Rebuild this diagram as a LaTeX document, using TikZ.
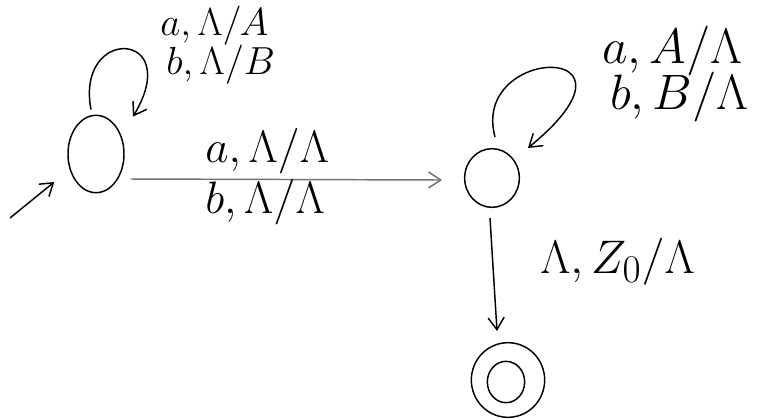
\documentclass[tikz,border=0pt]{standalone}
\usetikzlibrary{arrows.meta,shapes.geometric}
\begin{document}
\begin{tikzpicture}[x=0.75pt,y=-0.75pt,
  state/.style={draw, ellipse, inner sep=0pt, line width=1.1pt},
  edge/.style={line width=1.1pt, -{Straight Barb[length=9pt,width=12pt,line width=1.1pt]}},
  lbl/.style={inner sep=0pt, anchor=west, font=\fontsize{24.88}{28}\selectfont}]
\useasboundingbox (0,0) rectangle (757,419);
% states
\node[state, minimum width=42pt, minimum height=58pt] (q0) at (96,154) {};
\node[state, minimum width=41pt, minimum height=44pt] (q1) at (492,178) {};
\node[state, minimum width=55pt, minimum height=56pt] (q2) at (508,380) {};
\node[state, minimum width=28pt, minimum height=31pt] (q2in) at (506,382) {};
% initial arrow
\coordinate (init) at (10,218);
\draw[edge] (init) -- ([shift={(-13,28)}]q0.west);
% loop on q0
\draw[edge] ([shift={(-5,-5)}]q0.north) .. controls (75,25) and (185,30) .. ([shift={(37,2)}]q0.north);
% q0 -> q1
\draw[edge, draw=black!55] ([shift={(6,25)}]q0.east) -- ([shift={(-22,2)}]q1.west);
% loop on q1
\draw[edge] ([shift={(3,-11)}]q1.north) .. controls (470,45) and (660,40) .. ([shift={(36,0)}]q1.north);
% q1 -> q2
\draw[edge] ([shift={(-2,10)}]q1.south) -- ([shift={(-11,-11)}]q2.north);
% labels
\node[lbl] (l0a) at (160,26) {\scalebox{1.18}{$a,\Lambda/A$}};
\node[lbl] (l0b) at (166,65) {\scalebox{1.18}{$b,\Lambda/B$}};
\node[lbl] (lma) at (205,151) {\scalebox{1.37}{$a,\Lambda/\Lambda$}};
\node[lbl] (lmb) at (205,202) {\scalebox{1.37}{$b,\Lambda/\Lambda$}};
\node[lbl] (l1a) at (602,51) {\scalebox{1.5}{$a,A/\Lambda$}};
\node[lbl] (l1b) at (610,97) {\scalebox{1.5}{$b,B/\Lambda$}};
\node[lbl] (l12) at (540,262) {\scalebox{1.42}{$\Lambda,Z_0/\Lambda$}};
\end{tikzpicture}
\end{document}
